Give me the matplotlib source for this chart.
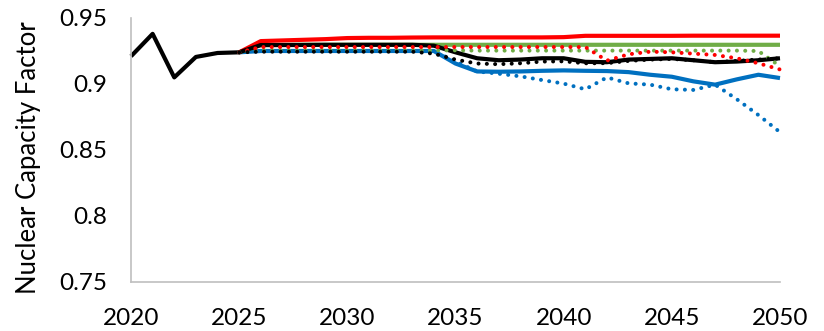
import matplotlib
matplotlib.use("Agg")
import matplotlib.pyplot as plt

plt.rcParams['font.family'] = ['Lato', 'DejaVu Sans']

# Historical capacity factor 2020-2025
hist_years = list(range(2020, 2026))
history = [0.921, 0.938, 0.905, 0.9205, 0.9235, 0.924]

# Scenario projections 2025-2050
proj_years = list(range(2025, 2051))
red_solid = [0.924, 0.9325, 0.933, 0.9335, 0.934, 0.9348, 0.935, 0.935, 0.9352, 0.9353,
             0.9353, 0.9353, 0.9353, 0.9353, 0.9353, 0.9355, 0.9365, 0.9365, 0.9365, 0.9365,
             0.9365, 0.9366, 0.9366, 0.9366, 0.9366, 0.9366]
green_solid = [0.924, 0.9295, 0.9296, 0.9297, 0.9297, 0.9297, 0.9297, 0.9297, 0.9297, 0.9297,
               0.9297, 0.9297, 0.9297, 0.9297, 0.9297, 0.9297, 0.9297, 0.9297, 0.9297, 0.9297,
               0.9297, 0.9297, 0.9297, 0.9297, 0.9297, 0.9297]
blue_solid = [0.924, 0.925, 0.925, 0.925, 0.925, 0.925, 0.925, 0.925, 0.925, 0.925,
              0.9155, 0.9095, 0.9093, 0.9095, 0.910, 0.9103, 0.910, 0.9098, 0.909, 0.907,
              0.9055, 0.902, 0.8995, 0.9035, 0.907, 0.9045]
black_solid = [0.924, 0.9295, 0.9295, 0.9296, 0.9297, 0.9297, 0.9297, 0.9297, 0.9297, 0.929,
               0.924, 0.9195, 0.918, 0.9185, 0.9195, 0.9195, 0.9168, 0.9165, 0.9185, 0.919,
               0.9195, 0.918, 0.9165, 0.917, 0.918, 0.9195]
blue_dotted = [0.924, 0.925, 0.925, 0.925, 0.925, 0.925, 0.925, 0.925, 0.925, 0.925,
               0.917, 0.9095, 0.9078, 0.9058, 0.903, 0.9003, 0.896, 0.905, 0.9005, 0.8995,
               0.896, 0.8955, 0.8995, 0.8885, 0.8765, 0.8635]
green_dotted = [0.924, 0.9255, 0.9255, 0.9255, 0.9255, 0.9255, 0.9255, 0.9255, 0.9255, 0.9255,
                0.9255, 0.9253, 0.9253, 0.9253, 0.9253, 0.9253, 0.9253, 0.9253, 0.9253, 0.9253,
                0.9253, 0.9253, 0.9253, 0.9253, 0.925, 0.9135]
red_dotted = [0.924, 0.928, 0.928, 0.928, 0.928, 0.928, 0.928, 0.928, 0.928, 0.928,
              0.928, 0.928, 0.928, 0.928, 0.928, 0.928, 0.928, 0.9177, 0.9225, 0.9245,
              0.924, 0.923, 0.922, 0.9195, 0.9157, 0.911]
black_dotted = [0.924, 0.9245, 0.9245, 0.9245, 0.9245, 0.9245, 0.9245, 0.9245, 0.9245, 0.923,
                0.9185, 0.9155, 0.915, 0.9157, 0.917, 0.9172, 0.9157, 0.9158, 0.9175, 0.9185,
                0.919, 0.918, 0.9165, 0.9175, 0.9185, 0.9195]

RED = '#FF0000'
GREEN = '#70AD47'
BLUE = '#0070C0'
BLACK = '#000000'

fig = plt.figure(figsize=(8.24, 3.31), dpi=100)
ax = fig.add_axes([131 / 824, 49 / 331, 649 / 824, 264 / 331])

solid_kw = dict(linewidth=3.0, solid_capstyle='butt', solid_joinstyle='round', clip_on=False)
dot_kw = dict(linewidth=2.9, linestyle=(0, (0.01, 2.05)), dash_capstyle='round', clip_on=False)

ax.plot(proj_years, blue_solid, color=BLUE, **solid_kw)
ax.plot(proj_years, green_solid, color=GREEN, **solid_kw)
ax.plot(proj_years, red_solid, color=RED, **solid_kw)
ax.plot(hist_years + proj_years[1:], history + black_solid[1:], color=BLACK, **solid_kw)
ax.plot(proj_years, blue_dotted, color=BLUE, **dot_kw)
ax.plot(proj_years, green_dotted, color=GREEN, **dot_kw)
ax.plot(proj_years, red_dotted, color=RED, **dot_kw)
ax.plot(proj_years, black_dotted, color=BLACK, **dot_kw)

ax.set_xlim(2020, 2050)
ax.set_ylim(0.75, 0.95)
ax.set_xticks([2020, 2025, 2030, 2035, 2040, 2045, 2050])
ax.set_yticks([0.75, 0.8, 0.85, 0.9, 0.95])
ax.set_yticklabels(['0.75', '0.8', '0.85', '0.9', '0.95'])

for side in ('top', 'right'):
    ax.spines[side].set_visible(False)
for side in ('left', 'bottom'):
    ax.spines[side].set_color('#BFBFBF')
    ax.spines[side].set_linewidth(1.2)

ax.tick_params(axis='both', length=0, labelsize=17.5, colors='black')
ax.tick_params(axis='y', pad=17)
ax.tick_params(axis='x', pad=19)
ax.set_ylabel('Nuclear Capacity Factor', fontsize=18.5)
ax.yaxis.set_label_coords(-0.139, 0.47)

fig.savefig('out.png', dpi=100)
